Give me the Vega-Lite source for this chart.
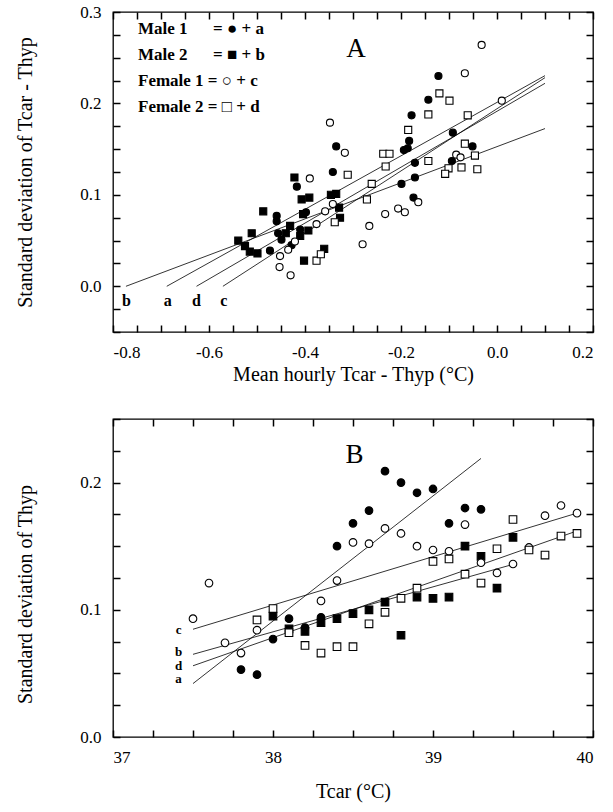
{
  "$schema": "https://vega.github.io/schema/vega-lite/v6.json",
  "background": "white",
  "padding": {"left": 15, "top": 2, "right": 5, "bottom": 5},
  "config": {
    "font": "Liberation Serif",
    "view": {"stroke": "black", "strokeWidth": 1.3},
    "axis": {
      "domain": false, "grid": false, "ticks": true, "tickOpacity": 1, "tickColor": "black", "tickSize": 7, "tickWidth": 1.5, "offset": -7,
      "labelFont": "Liberation Serif", "labelFontSize": 17, "labelColor": "black",
      "titleFont": "Liberation Serif", "titleFontSize": 20, "titleFontWeight": "normal", "titleColor": "black",
      "labelPadding": 12, "titlePadding": 10, "zindex": 1
    }
  },
  "datasets": {
    "pointsA": [
      {"g":"Male 1","x":-0.473,"y":0.039},{"g":"Male 1","x":-0.459,"y":0.077},{"g":"Male 1","x":-0.459,"y":0.071},{"g":"Male 1","x":-0.456,"y":0.058},{"g":"Male 1","x":-0.449,"y":0.051},{"g":"Male 1","x":-0.428,"y":0.045},{"g":"Male 1","x":-0.41,"y":0.062},{"g":"Male 1","x":-0.398,"y":0.081},{"g":"Male 1","x":-0.417,"y":0.109},{"g":"Male 1","x":-0.342,"y":0.125},{"g":"Male 1","x":-0.335,"y":0.153},{"g":"Male 1","x":-0.199,"y":0.112},{"g":"Male 1","x":-0.194,"y":0.149},{"g":"Male 1","x":-0.186,"y":0.151},{"g":"Male 1","x":-0.183,"y":0.159},{"g":"Male 1","x":-0.178,"y":0.187},{"g":"Male 1","x":-0.171,"y":0.135},{"g":"Male 1","x":-0.171,"y":0.119},{"g":"Male 1","x":-0.174,"y":0.097},{"g":"Male 1","x":-0.143,"y":0.204},{"g":"Male 1","x":-0.122,"y":0.23},{"g":"Male 1","x":-0.092,"y":0.168},{"g":"Male 1","x":-0.094,"y":0.137},{"g":"Male 1","x":-0.051,"y":0.153},
      {"g":"Male 2","x":-0.539,"y":0.05},{"g":"Male 2","x":-0.525,"y":0.044},{"g":"Male 2","x":-0.515,"y":0.038},{"g":"Male 2","x":-0.499,"y":0.036},{"g":"Male 2","x":-0.511,"y":0.058},{"g":"Male 2","x":-0.487,"y":0.082},{"g":"Male 2","x":-0.422,"y":0.119},{"g":"Male 2","x":-0.407,"y":0.095},{"g":"Male 2","x":-0.391,"y":0.097},{"g":"Male 2","x":-0.404,"y":0.079},{"g":"Male 2","x":-0.431,"y":0.066},{"g":"Male 2","x":-0.41,"y":0.055},{"g":"Male 2","x":-0.393,"y":0.061},{"g":"Male 2","x":-0.346,"y":0.1},{"g":"Male 2","x":-0.335,"y":0.101},{"g":"Male 2","x":-0.329,"y":0.086},{"g":"Male 2","x":-0.327,"y":0.075},{"g":"Male 2","x":-0.402,"y":0.028},{"g":"Male 2","x":-0.36,"y":0.041},{"g":"Male 2","x":-0.44,"y":0.058},
      {"g":"Female 1","x":-0.032,"y":0.264},{"g":"Female 1","x":-0.067,"y":0.233},{"g":"Female 1","x":0.01,"y":0.203},{"g":"Female 1","x":-0.348,"y":0.179},{"g":"Female 1","x":-0.317,"y":0.146},{"g":"Female 1","x":-0.39,"y":0.118},{"g":"Female 1","x":-0.085,"y":0.144},{"g":"Female 1","x":-0.076,"y":0.141},{"g":"Female 1","x":-0.358,"y":0.082},{"g":"Female 1","x":-0.376,"y":0.068},{"g":"Female 1","x":-0.342,"y":0.09},{"g":"Female 1","x":-0.233,"y":0.079},{"g":"Female 1","x":-0.206,"y":0.085},{"g":"Female 1","x":-0.192,"y":0.081},{"g":"Female 1","x":-0.164,"y":0.092},{"g":"Female 1","x":-0.266,"y":0.066},{"g":"Female 1","x":-0.28,"y":0.046},{"g":"Female 1","x":-0.452,"y":0.033},{"g":"Female 1","x":-0.453,"y":0.021},{"g":"Female 1","x":-0.43,"y":0.012},{"g":"Female 1","x":-0.435,"y":0.04},{"g":"Female 1","x":-0.421,"y":0.049},
      {"g":"Female 2","x":-0.12,"y":0.211},{"g":"Female 2","x":-0.099,"y":0.203},{"g":"Female 2","x":-0.143,"y":0.188},{"g":"Female 2","x":-0.061,"y":0.187},{"g":"Female 2","x":-0.185,"y":0.171},{"g":"Female 2","x":-0.237,"y":0.145},{"g":"Female 2","x":-0.224,"y":0.145},{"g":"Female 2","x":-0.232,"y":0.131},{"g":"Female 2","x":-0.143,"y":0.137},{"g":"Female 2","x":-0.067,"y":0.156},{"g":"Female 2","x":-0.046,"y":0.143},{"g":"Female 2","x":-0.101,"y":0.129},{"g":"Female 2","x":-0.108,"y":0.123},{"g":"Female 2","x":-0.074,"y":0.13},{"g":"Female 2","x":-0.041,"y":0.128},{"g":"Female 2","x":-0.311,"y":0.122},{"g":"Female 2","x":-0.261,"y":0.112},{"g":"Female 2","x":-0.271,"y":0.095},{"g":"Female 2","x":-0.338,"y":0.07},{"g":"Female 2","x":-0.376,"y":0.028},{"g":"Female 2","x":-0.367,"y":0.035}
    ],
    "linesA": [
      {"line":"a","x":-0.688,"y":0},{"line":"a","x":0.1,"y":0.2304},
      {"line":"b","x":-0.773,"y":0},{"line":"b","x":0.1,"y":0.1725},
      {"line":"c","x":-0.571,"y":0},{"line":"c","x":0.1,"y":0.2282},
      {"line":"d","x":-0.626,"y":0},{"line":"d","x":0.1,"y":0.222}
    ],
    "lettersA": [
      {"t":"b","x":-0.772,"y":-0.022},{"t":"a","x":-0.686,"y":-0.022},{"t":"d","x":-0.626,"y":-0.022},{"t":"c","x":-0.569,"y":-0.022}
    ],
    "panelA": [{"t":"A","x":-0.294,"y":0.2505}],
    "pointsB": [
      {"g":"Male 1","x":37.8,"y":0.053},{"g":"Male 1","x":37.9,"y":0.049},{"g":"Male 1","x":38.0,"y":0.077},{"g":"Male 1","x":38.1,"y":0.093},{"g":"Male 1","x":38.2,"y":0.086},{"g":"Male 1","x":38.3,"y":0.094},{"g":"Male 1","x":38.4,"y":0.15},{"g":"Male 1","x":38.5,"y":0.168},{"g":"Male 1","x":38.6,"y":0.178},{"g":"Male 1","x":38.7,"y":0.209},{"g":"Male 1","x":38.8,"y":0.2},{"g":"Male 1","x":38.9,"y":0.192},{"g":"Male 1","x":39.0,"y":0.195},{"g":"Male 1","x":39.1,"y":0.168},{"g":"Male 1","x":39.2,"y":0.18},{"g":"Male 1","x":39.3,"y":0.179},
      {"g":"Male 2","x":38.0,"y":0.095},{"g":"Male 2","x":38.1,"y":0.085},{"g":"Male 2","x":38.2,"y":0.083},{"g":"Male 2","x":38.3,"y":0.09},{"g":"Male 2","x":38.4,"y":0.093},{"g":"Male 2","x":38.5,"y":0.097},{"g":"Male 2","x":38.6,"y":0.1},{"g":"Male 2","x":38.7,"y":0.106},{"g":"Male 2","x":38.8,"y":0.08},{"g":"Male 2","x":38.9,"y":0.11},{"g":"Male 2","x":39.0,"y":0.109},{"g":"Male 2","x":39.1,"y":0.11},{"g":"Male 2","x":39.2,"y":0.15},{"g":"Male 2","x":39.3,"y":0.142},{"g":"Male 2","x":39.4,"y":0.117},{"g":"Male 2","x":39.5,"y":0.157},
      {"g":"Female 1","x":37.5,"y":0.093},{"g":"Female 1","x":37.6,"y":0.121},{"g":"Female 1","x":37.7,"y":0.074},{"g":"Female 1","x":37.8,"y":0.066},{"g":"Female 1","x":37.9,"y":0.084},{"g":"Female 1","x":38.3,"y":0.107},{"g":"Female 1","x":38.4,"y":0.123},{"g":"Female 1","x":38.5,"y":0.153},{"g":"Female 1","x":38.6,"y":0.152},{"g":"Female 1","x":38.7,"y":0.164},{"g":"Female 1","x":38.8,"y":0.16},{"g":"Female 1","x":38.9,"y":0.15},{"g":"Female 1","x":39.0,"y":0.147},{"g":"Female 1","x":39.1,"y":0.146},{"g":"Female 1","x":39.2,"y":0.167},{"g":"Female 1","x":39.3,"y":0.137},{"g":"Female 1","x":39.4,"y":0.129},{"g":"Female 1","x":39.5,"y":0.136},{"g":"Female 1","x":39.6,"y":0.149},{"g":"Female 1","x":39.7,"y":0.174},{"g":"Female 1","x":39.8,"y":0.182},{"g":"Female 1","x":39.9,"y":0.176},
      {"g":"Female 2","x":37.9,"y":0.092},{"g":"Female 2","x":38.0,"y":0.101},{"g":"Female 2","x":38.1,"y":0.082},{"g":"Female 2","x":38.2,"y":0.072},{"g":"Female 2","x":38.3,"y":0.066},{"g":"Female 2","x":38.4,"y":0.071},{"g":"Female 2","x":38.5,"y":0.071},{"g":"Female 2","x":38.6,"y":0.089},{"g":"Female 2","x":38.7,"y":0.098},{"g":"Female 2","x":38.8,"y":0.109},{"g":"Female 2","x":38.9,"y":0.117},{"g":"Female 2","x":39.0,"y":0.138},{"g":"Female 2","x":39.1,"y":0.14},{"g":"Female 2","x":39.2,"y":0.128},{"g":"Female 2","x":39.3,"y":0.121},{"g":"Female 2","x":39.4,"y":0.148},{"g":"Female 2","x":39.5,"y":0.171},{"g":"Female 2","x":39.6,"y":0.147},{"g":"Female 2","x":39.7,"y":0.143},{"g":"Female 2","x":39.8,"y":0.158},{"g":"Female 2","x":39.9,"y":0.16}
    ],
    "linesB": [
      {"line":"a","x":37.5,"y":0.042},{"line":"a","x":39.3,"y":0.219},
      {"line":"b","x":37.5,"y":0.065},{"line":"b","x":39.5,"y":0.1357},
      {"line":"c","x":37.5,"y":0.0847},{"line":"c","x":39.9,"y":0.176},
      {"line":"d","x":37.5,"y":0.056},{"line":"d","x":39.9,"y":0.162}
    ],
    "lettersB": [
      {"t":"c","x":37.41,"y":0.0808},{"t":"b","x":37.41,"y":0.0635},{"t":"d","x":37.41,"y":0.0528},{"t":"a","x":37.41,"y":0.0421}
    ],
    "panelB": [{"t":"B","x":38.51,"y":0.2157}]
  },
  "spacing": 32,
  "resolve": {
    "scale": {"x": "independent", "y": "independent", "shape": "independent", "fill": "independent"},
    "legend": {"shape": "independent", "fill": "independent"}
  },
  "vconcat": [
    {
      "width": 480,
      "height": 320,
      "resolve": {"axis": {"x": "independent", "y": "independent"}},
      "layer": [
        {
          "mark": {"type": "rule", "strokeDash": [5, 4], "strokeWidth": 1.2, "color": "black"},
          "encoding": {"y": {"datum": 0, "type": "quantitative", "scale": {"domain": [-0.05, 0.3], "nice": false, "zero": false}, "axis": null}}
        },
        {
          "mark": {"type": "rule", "strokeDash": [5, 4], "strokeWidth": 1.2, "color": "black"},
          "encoding": {"x": {"datum": 0, "type": "quantitative", "scale": {"domain": [-0.8, 0.2], "nice": false, "zero": false}, "axis": null}}
        },
        {
          "data": {"name": "linesA"},
          "mark": {"type": "line", "color": "black", "strokeWidth": 0.8},
          "encoding": {
            "x": {"field": "x", "type": "quantitative", "scale": {"domain": [-0.8, 0.2], "nice": false, "zero": false}, "axis": null},
            "y": {"field": "y", "type": "quantitative", "scale": {"domain": [-0.05, 0.3], "nice": false, "zero": false}, "axis": null},
            "detail": {"field": "line", "type": "nominal"}
          }
        },
        {
          "data": {"name": "pointsA"},
          "mark": {"type": "point", "filled": true, "stroke": "black", "strokeWidth": 1.1, "size": 50, "opacity": 1},
          "encoding": {
            "x": {"field": "x", "type": "quantitative", "scale": {"domain": [-0.8, 0.2], "nice": false, "zero": false},
              "axis": {"orient": "bottom", "title": "Mean hourly Tcar - Thyp  (°C)", "titlePadding": 4,
                "values": [-0.8,-0.75,-0.7,-0.65,-0.6,-0.55,-0.5,-0.45,-0.4,-0.35,-0.3,-0.25,-0.2,-0.15,-0.1,-0.05,0,0.05,0.1,0.15,0.2],
                "labelExpr": "abs(datum.value*5 - round(datum.value*5)) < 0.001 ? replace(format(datum.value, '.1f'), '\u2212', '-') : ''"}},
            "y": {"field": "y", "type": "quantitative", "scale": {"domain": [-0.05, 0.3], "nice": false, "zero": false},
              "axis": {"orient": "left", "title": "Standard deviation of Tcar - Thyp", "titlePadding": 44,
                "values": [-0.05,-0.025,0,0.025,0.05,0.075,0.1,0.125,0.15,0.175,0.2,0.225,0.25,0.275,0.3],
                "labelExpr": "abs(datum.value*10 - round(datum.value*10)) < 0.001 && datum.value >= 0 ? format(datum.value, '.1f') : ''"}},
            "shape": {"field": "g", "type": "nominal",
              "scale": {"domain": ["Male 1", "Male 2", "Female 1", "Female 2"], "range": ["circle", "square", "circle", "square"]},
              "legend": {"orient": "top-left", "offset": 8, "title": null, "symbolSize": 0, "symbolOpacity": 0, "symbolStrokeWidth": 0,
                "labelOffset": 0, "labelFont": "Liberation Serif", "labelFontSize": 17, "labelFontWeight": "bold", "labelColor": "black",
                "labelLimit": 300, "rowPadding": 8,
                "labelExpr": "datum.label == 'Male 1' ? 'Male 1\u00a0\u00a0\u00a0\u00a0\u00a0\u00a0= \u25cf + a' : datum.label == 'Male 2' ? 'Male 2\u00a0\u00a0\u00a0\u00a0\u00a0\u00a0= \u25a0 + b' : datum.label == 'Female 1' ? 'Female 1 = \u25cb + c' : 'Female 2 = \u25a1 + d'"}},
            "fill": {"field": "g", "type": "nominal",
              "scale": {"domain": ["Male 1", "Male 2", "Female 1", "Female 2"], "range": ["black", "black", "white", "white"]},
              "legend": null}
          }
        },
        {
          "data": {"name": "pointsA"},
          "mark": {"type": "point", "opacity": 0},
          "encoding": {
            "x": {"field": "x", "type": "quantitative", "scale": {"domain": [-0.8, 0.2], "nice": false, "zero": false},
              "axis": {"orient": "top", "labels": false, "title": null,
                "values": [-0.8,-0.75,-0.7,-0.65,-0.6,-0.55,-0.5,-0.45,-0.4,-0.35,-0.3,-0.25,-0.2,-0.15,-0.1,-0.05,0,0.05,0.1,0.15,0.2]}},
            "y": {"field": "y", "type": "quantitative", "scale": {"domain": [-0.05, 0.3], "nice": false, "zero": false},
              "axis": {"orient": "right", "labels": false, "title": null,
                "values": [-0.05,-0.025,0,0.025,0.05,0.075,0.1,0.125,0.15,0.175,0.2,0.225,0.25,0.275,0.3]}}
          }
        },
        {
          "data": {"name": "lettersA"},
          "mark": {"type": "text", "font": "Liberation Serif", "fontSize": 16, "fontWeight": "bold", "color": "black", "baseline": "alphabetic"},
          "encoding": {
            "x": {"field": "x", "type": "quantitative", "scale": {"domain": [-0.8, 0.2], "nice": false, "zero": false}, "axis": null},
            "y": {"field": "y", "type": "quantitative", "scale": {"domain": [-0.05, 0.3], "nice": false, "zero": false}, "axis": null},
            "text": {"field": "t"}
          }
        },
        {
          "data": {"name": "panelA"},
          "mark": {"type": "text", "font": "Liberation Serif", "fontSize": 27, "color": "black", "baseline": "alphabetic"},
          "encoding": {
            "x": {"field": "x", "type": "quantitative", "scale": {"domain": [-0.8, 0.2], "nice": false, "zero": false}, "axis": null},
            "y": {"field": "y", "type": "quantitative", "scale": {"domain": [-0.05, 0.3], "nice": false, "zero": false}, "axis": null},
            "text": {"field": "t"}
          }
        }
      ]
    },
    {
      "width": 480,
      "height": 318,
      "resolve": {"axis": {"x": "independent", "y": "independent"}},
      "layer": [
        {
          "data": {"name": "linesB"},
          "mark": {"type": "line", "color": "black", "strokeWidth": 0.8},
          "encoding": {
            "x": {"field": "x", "type": "quantitative", "scale": {"domain": [37, 40], "nice": false, "zero": false}, "axis": null},
            "y": {"field": "y", "type": "quantitative", "scale": {"domain": [0, 0.25], "nice": false, "zero": false}, "axis": null},
            "detail": {"field": "line", "type": "nominal"}
          }
        },
        {
          "data": {"name": "pointsB"},
          "mark": {"type": "point", "filled": true, "stroke": "black", "strokeWidth": 1.1, "size": 58, "opacity": 1},
          "encoding": {
            "x": {"field": "x", "type": "quantitative", "scale": {"domain": [37, 40], "nice": false, "zero": false},
              "axis": {"orient": "bottom", "title": "Tcar (°C)", "titlePadding": 16,
                "values": [37,37.25,37.5,37.75,38,38.25,38.5,38.75,39,39.25,39.5,39.75,40],
                "labelExpr": "abs(datum.value - round(datum.value)) < 0.001 ? format(datum.value, 'd') : ''"}},
            "y": {"field": "y", "type": "quantitative", "scale": {"domain": [0, 0.25], "nice": false, "zero": false},
              "axis": {"orient": "left", "title": "Standard deviation of Thyp", "titlePadding": 44, "titleY": 175,
                "values": [0,0.025,0.05,0.075,0.1,0.125,0.15,0.175,0.2,0.225,0.25],
                "labelExpr": "abs(datum.value*10 - round(datum.value*10)) < 0.001 ? format(datum.value, '.1f') : ''"}},
            "shape": {"field": "g", "type": "nominal",
              "scale": {"domain": ["Male 1", "Male 2", "Female 1", "Female 2"], "range": ["circle", "square", "circle", "square"]},
              "legend": null},
            "fill": {"field": "g", "type": "nominal",
              "scale": {"domain": ["Male 1", "Male 2", "Female 1", "Female 2"], "range": ["black", "black", "white", "white"]},
              "legend": null}
          }
        },
        {
          "data": {"name": "pointsB"},
          "mark": {"type": "point", "opacity": 0},
          "encoding": {
            "x": {"field": "x", "type": "quantitative", "scale": {"domain": [37, 40], "nice": false, "zero": false},
              "axis": {"orient": "top", "labels": false, "title": null,
                "values": [37,37.25,37.5,37.75,38,38.25,38.5,38.75,39,39.25,39.5,39.75,40]}},
            "y": {"field": "y", "type": "quantitative", "scale": {"domain": [0, 0.25], "nice": false, "zero": false},
              "axis": {"orient": "right", "labels": false, "title": null,
                "values": [0,0.025,0.05,0.075,0.1,0.125,0.15,0.175,0.2,0.225,0.25]}}
          }
        },
        {
          "data": {"name": "lettersB"},
          "mark": {"type": "text", "font": "Liberation Serif", "fontSize": 13, "fontWeight": "bold", "color": "black", "baseline": "alphabetic"},
          "encoding": {
            "x": {"field": "x", "type": "quantitative", "scale": {"domain": [37, 40], "nice": false, "zero": false}, "axis": null},
            "y": {"field": "y", "type": "quantitative", "scale": {"domain": [0, 0.25], "nice": false, "zero": false}, "axis": null},
            "text": {"field": "t"}
          }
        },
        {
          "data": {"name": "panelB"},
          "mark": {"type": "text", "font": "Liberation Serif", "fontSize": 27, "color": "black", "baseline": "alphabetic"},
          "encoding": {
            "x": {"field": "x", "type": "quantitative", "scale": {"domain": [37, 40], "nice": false, "zero": false}, "axis": null},
            "y": {"field": "y", "type": "quantitative", "scale": {"domain": [0, 0.25], "nice": false, "zero": false}, "axis": null},
            "text": {"field": "t"}
          }
        }
      ]
    }
  ]
}
